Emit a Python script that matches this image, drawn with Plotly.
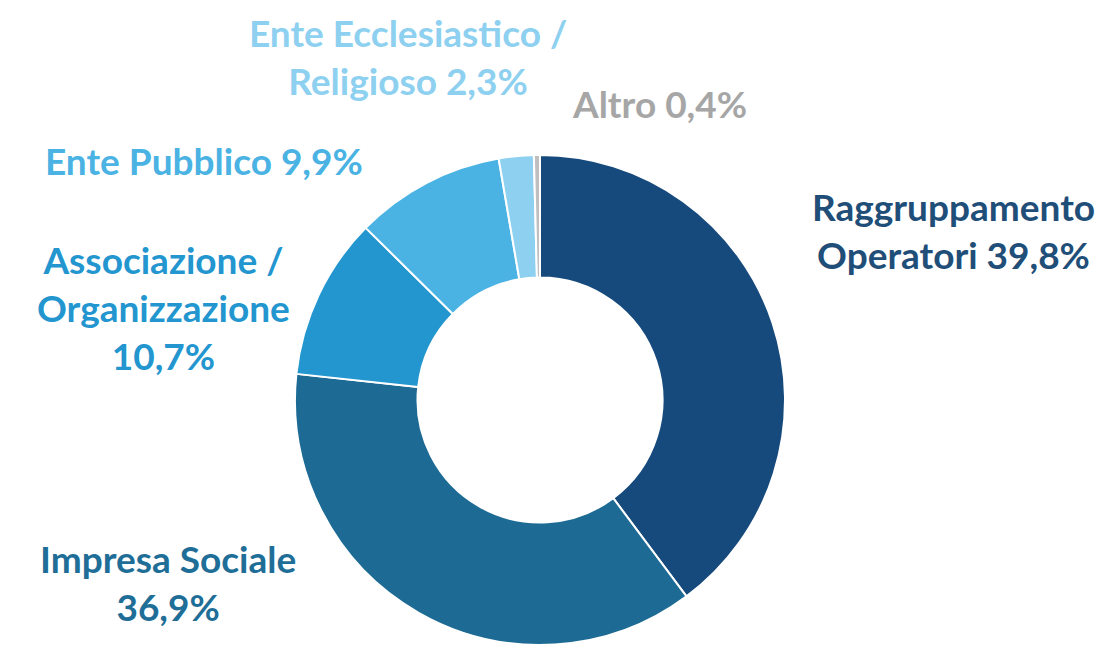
import plotly.graph_objects as go

categories = ["Raggruppamento Operatori", "Impresa Sociale", "Associazione / Organizzazione",
              "Ente Pubblico", "Ente Ecclesiastico / Religioso", "Altro"]
values = [39.8, 36.9, 10.7, 9.9, 2.3, 0.4]
label_lines = ["Raggruppamento<br>Operatori", "Impresa Sociale<br>", "Associazione /<br>Organizzazione<br>",
               "Ente Pubblico", "Ente Ecclesiastico /<br>Religioso", "Altro"]
colors = ["#174A7C", "#1D6B94", "#2396D0", "#4AB3E3", "#8DD0F0", "#BFBFBF"]
text_colors = ["#1F4E79", "#1F6E97", "#2396D0", "#4AB3E3", "#8DD0F0", "#A6A6A6"]
# label centres in pixels (x, y)
label_pos = [(945, 222), (160, 574), (155, 300), (196, 152), (400, 48), (651, 95)]

W, H = 1107, 645
cx, cy, r = 532, 392, 245

fig = go.Figure(go.Pie(
    labels=categories, values=values, hole=0.5, sort=False, direction="clockwise",
    rotation=0, textinfo="none", hoverinfo="label+percent",
    marker=dict(colors=colors, line=dict(color="white", width=2)),
    domain=dict(x=[(cx - r) / W, (cx + r) / W], y=[1 - (cy + r) / H, 1 - (cy - r) / H]),
    showlegend=False,
))

for lab, v, col, (px, py) in zip(label_lines, values, text_colors, label_pos):
    txt = f"{lab} {v:.1f}%".replace(".", ",").replace("<br> ", "<br>")
    fig.add_annotation(x=px / W, y=1 - py / H, xref="paper", yref="paper", text=txt,
                       showarrow=False, xanchor="center", yanchor="middle", align="center",
                       font=dict(family="Lato", size=37, color=col, weight="bold"))

fig.update_layout(width=W, height=H, margin=dict(l=0, r=0, t=0, b=0),
                  paper_bgcolor="white", plot_bgcolor="white")
fig.write_html("out.html")
